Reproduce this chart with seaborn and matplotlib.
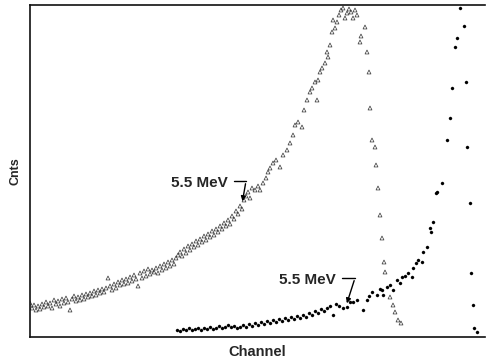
import matplotlib
matplotlib.use("Agg")
import matplotlib.pyplot as plt
import seaborn as sns
import pandas as pd

# spectrum (channel, counts)
tri_channel = [0, 2, 4, 6, 8, 10, 12, 14, 16, 18, 20, 22, 24, 26, 28, 30, 32, 34, 36, 38,
               40, 42, 44, 46, 48, 50, 52, 54, 56, 58, 60, 62, 64, 66, 68, 70, 72, 74, 76, 78,
               80, 82, 84, 86, 88, 90, 92, 94, 96, 98, 100, 102, 104, 106, 108, 110, 112, 114,
               116, 118, 120, 122, 124, 126, 128, 130, 132, 134, 136, 138, 140, 142, 144, 146,
               148, 150, 152, 154, 156, 158, 160, 162, 164, 166, 168, 170, 172, 174, 176, 178,
               180, 182, 184, 186, 188, 190, 192, 194, 196, 198, 200, 202, 204, 206, 208, 210,
               212, 214, 216, 218, 220, 222, 225, 228, 230, 233, 236, 238, 240, 243, 246, 250,
               253, 257, 260, 263, 265, 268, 272, 274, 277, 280, 282, 285, 287, 288, 290, 292,
               295, 297, 298, 300, 302, 303, 305, 307, 309, 311, 313, 315, 317, 319, 321, 323,
               325, 327, 330, 331, 335, 337, 339, 340, 342, 345, 346, 348, 350, 352, 354, 355,
               360, 363, 365, 368, 371]
tri_counts = [34, 29, 32, 27, 31, 28, 33, 30, 35, 31, 34, 29, 37, 33, 36, 31, 38, 34, 39, 35,
              27, 38, 41, 36, 40, 37, 42, 38, 43, 40, 44, 41, 46, 42, 47, 44, 48, 45, 49, 59,
              51, 47, 53, 49, 55, 52, 57, 53, 58, 54, 60, 56, 62, 58, 51, 64, 59, 66, 61, 68,
              63, 67, 65, 69, 64, 71, 67, 73, 69, 75, 71, 77, 73, 79, 82, 85, 81, 88, 84, 91,
              87, 93, 90, 96, 92, 98, 95, 101, 97, 103, 100, 106, 102, 108, 105, 111, 108, 114,
              111, 117, 113, 121, 118, 126, 123, 131, 128, 137, 141, 145, 139, 149, 147, 151,
              147, 154, 159, 165, 169, 174, 177, 170, 182, 187, 194, 202, 212, 215, 210, 227,
              237, 245, 249, 255, 237, 257, 265, 269, 274, 285, 280, 292, 305, 317, 309, 315,
              322, 327, 329, 319, 324, 328, 325, 319, 327, 322, 295, 301, 310, 285, 265, 229,
              197, 190, 172, 149, 122, 99, 75, 65, 40, 32, 25, 17, 14]

dot_channel = [147, 150, 153, 156, 159, 162, 165, 168, 171, 174, 177, 180, 183, 186, 189, 192,
               195, 198, 201, 204, 207, 210, 213, 216, 219, 222, 225, 228, 231, 234, 237, 240,
               243, 246, 249, 252, 255, 258, 261, 264, 267, 270, 273, 276, 279, 282, 285, 288,
               291, 294, 297, 300, 303, 306, 309, 313, 317, 320, 323, 327, 333, 337, 339, 342,
               347, 350, 352, 353, 357, 360, 363, 367, 370, 372, 375, 378, 382, 383, 386, 388,
               392, 393, 397, 400, 401, 403, 406, 407, 412, 417, 420, 422, 425, 427, 430, 434,
               436, 437, 440, 441, 443, 444, 447]
dot_counts = [7, 6, 8, 7, 9, 7, 8, 9, 7, 9, 8, 10, 8, 9, 11, 9, 10, 12, 10, 11, 9, 10, 12, 10,
              13, 11, 14, 12, 15, 13, 16, 14, 17, 15, 18, 16, 19, 17, 20, 18, 21, 19, 22, 20,
              24, 22, 26, 24, 28, 26, 29, 31, 22, 33, 31, 29, 30, 35, 35, 37, 27, 37, 41, 45,
              42, 48, 47, 42, 50, 52, 47, 57, 54, 60, 61, 64, 60, 69, 74, 77, 75, 85, 90, 109,
              105, 115, 144, 145, 154, 197, 219, 249, 290, 299, 329, 311, 255, 190, 134, 64,
              32, 9, 5]

tri = pd.DataFrame({"Channel": tri_channel, "Cnts": tri_counts})
dots = pd.DataFrame({"Channel": dot_channel, "Cnts": dot_counts})

sns.set_style("white")
plt.rcParams["font.family"] = ["Liberation Sans", "DejaVu Sans"]

fig = plt.figure(figsize=(4.87, 3.62), dpi=100)
ax = fig.add_axes([30 / 487, 25 / 362, 455 / 487, 332 / 362])

sns.scatterplot(data=tri, x="Channel", y="Cnts", marker="^", s=8,
                facecolor="none", edgecolor="#333333", linewidth=0.5, ax=ax)
sns.scatterplot(data=dots, x="Channel", y="Cnts", marker="o", s=5,
                color="black", edgecolor="black", linewidth=0.2, ax=ax)

ax.set_xlim(0, 455)
ax.set_ylim(0, 332)
ax.set_xticks([])
ax.set_yticks([])
ax.set_xlabel("Channel", fontsize=10.5, fontweight="bold", labelpad=6)
ax.set_ylabel("Cnts", fontsize=9, fontweight="bold", labelpad=6)

for side in ["left", "top", "bottom"]:
    ax.spines[side].set_color("#111111")
    ax.spines[side].set_linewidth(1.2)
ax.spines["right"].set_visible(False)

# labels with hooked arrows
ax.text(198, 154, "5.5 MeV", ha="right", va="center", fontsize=11, fontweight="bold")
ax.plot([204, 216], [156, 156], color="black", lw=1)
ax.annotate("", xy=(212, 133), xytext=(216, 156),
            arrowprops=dict(arrowstyle="-|>", color="black", lw=1, mutation_scale=7))

ax.text(306, 57, "5.5 MeV", ha="right", va="center", fontsize=11, fontweight="bold")
ax.plot([312, 325], [59, 59], color="black", lw=1)
ax.annotate("", xy=(316, 31), xytext=(325, 59),
            arrowprops=dict(arrowstyle="-|>", color="black", lw=1, mutation_scale=7))

fig.savefig("out.png", dpi=100)
